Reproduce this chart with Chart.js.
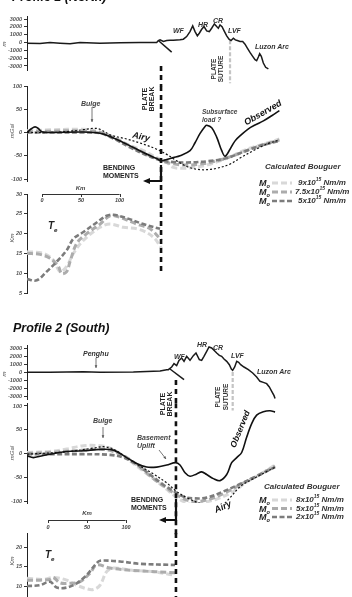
<!DOCTYPE html>
<html>
<head>
<meta charset="utf-8">
<script src="https://cdn.jsdelivr.net/npm/chart.js@4.4.1/dist/chart.umd.min.js"></script>
<style>
  html, body { margin: 0; padding: 0; background: #fff; }
  #page { position: relative; width: 352px; height: 597px; overflow: hidden; font-family: "Liberation Sans", Arial, sans-serif; }
  #page canvas { position: absolute; left: 0; }
  #page svg { position: absolute; left: 0; top: 0; }
  .t { position: absolute; white-space: nowrap; line-height: 1; }
  .t sub, .t sup { font-size: 62%; line-height: 0; }
</style>
</head>
<body>
<div id="page"></div>
<script>
// ---------- Profile 1 (North) ----------
// topography (km along profile, elevation m)
const p1TopoKm = [-19.3, -2.6, 10.3, 23.2, 36.1, 49.0, 74.7, 100.5, 126.3, 147.8, 149.9, 152.1, 156.4, 160.7, 165.0, 169.2, 177.8, 182.1, 186.4, 190.7, 194.2, 197.2, 200.2, 202.7, 205.8, 208.8, 212.2, 215.6, 218.6, 222.1, 225.1, 227.2, 229.4, 232.0, 234.5, 238.0, 241.0, 243.6, 246.6, 249.1, 251.7, 255.2, 258.6, 261.6, 264.6, 268.0, 271.5, 274.5, 276.6, 278.8, 280.5, 282.6, 285.2, 288.2, 291.7];
const p1TopoElev = [-85, -127, 0, -85, -169, 0, -85, -42, 0, 0, 254, 338, 127, 254, 296, 296, 338, 423, 760, 1394, 2113, 1394, 845, 1183, 1690, 2028, 1479, 1394, 1817, 2366, 2028, 1817, 2239, 2028, 1521, 845, 423, 254, 549, 338, 254, 127, 127, -211, -718, -1268, -1775, -2197, -2324, -1859, -1437, -1775, -2620, -3169, -3380];
const p1SlabKm = [149.9, 167.1];
const p1SlabElev = [254, -1225];
const p1PlateBreakKm = 153.4;
const p1SutureKm = 242.3;

// gravity (mGal)
const p1ObsKm = [-19.3, -13.3, -9.0, -4.7, -0.4, 10.3, 53.3, 74.8, 87.7, 109.1, 130.6, 147.8, 153.4, 160.7, 169.3, 177.9, 190.8, 197.2, 203.7, 210.1, 212.3, 218.7, 225.1, 231.6, 235.9, 242.3, 248.8, 257.4, 266.0, 274.5, 285.3, 296.0, 305.9];
const p1ObsMgal = [0, 8.6, 12, 8.6, 1.5, 0, 1, -1.5, -8.6, -25, -43, -56, -61, -58, -54, -50, -39, -22, -2, 13, 15.5, 10, -10, -39, -51, -36, -18, -4, 8, 16, 25, 36, 47];
const p1AiryKm = [-19.3, 10.3, 31.8, 53.3, 66.2, 74.8, 87.7, 109.1, 130.6, 147.8, 160.7, 173.6, 186.5, 199.4, 212.3, 225.1, 242.3, 255.2, 272.4, 289.6, 305.9];
const p1AiryMgal = [0, 0, 2, 6, 9, 7, -5, -14, -25, -36, -47, -61, -73, -79, -80, -77, -68, -55, -39, -25, -16];
const p1CalcAKm = [-19.3, 10.3, 53.3, 70.5, 87.7, 109.1, 130.6, 147.8, 160.7, 169.3, 182.2, 195.1, 212.3, 229.4, 246.6, 263.8, 285.3, 305.9];
const p1CalcAMgal = [3.6, 5.7, 7, 3.6, -7, -25, -39, -54, -64.5, -75, -77, -75, -70, -61, -49, -36, -25, -14];
const p1CalcBKm = [-19.3, 10.3, 53.3, 74.8, 92.0, 113.4, 134.9, 152.1, 165.0, 182.2, 203.7, 225.1, 246.6, 268.1, 289.6, 305.9];
const p1CalcBMgal = [1.4, 2.9, 3.6, 0, -11, -29, -46.6, -59.5, -66, -70, -68, -61, -50, -36, -24, -16];
const p1CalcCKm = [-19.3, 10.3, 53.3, 74.8, 92.0, 113.4, 134.9, 152.1, 165.0, 186.5, 212.3, 238.0, 259.5, 281.0, 305.9];
const p1CalcCMgal = [0, 0, 0, -1.4, -13, -32, -49, -59, -63, -64.5, -62, -55, -41.6, -28.7, -18];

// elastic thickness Te (km)
const p1TeAKm = [-19.3, 1.7, 14.6, 23.2, 31.8, 40.4, 53.3, 74.8, 87.7, 104.8, 126.3, 143.5, 154.2];
const p1TeA = [15.4, 15.0, 13.3, 10.4, 11.7, 15.0, 18.3, 21.6, 22.4, 21.6, 21.0, 19.1, 16.2];
const p1TeBKm = [-19.3, -2.5, 10.3, 21.1, 25.4, 31.8, 36.1, 44.7, 57.6, 74.8, 87.7, 100.6, 122.0, 139.2, 154.2];
const p1TeB = [15.0, 14.75, 13.75, 11.7, 9.9, 10.4, 12.9, 17.5, 20.0, 22.4, 24.5, 24.1, 22.4, 21.2, 18.3];
const p1TeCKm = [-19.3, -6.8, 6.0, 18.9, 31.8, 40.4, 53.3, 70.5, 83.4, 92.0, 109.1, 130.6, 152.1];
const p1TeC = [8.5, 8.2, 10.4, 12.9, 15.8, 18.7, 20.4, 22.8, 24.5, 24.75, 23.9, 22.4, 21.2];

// ---------- Profile 2 (South) ----------
const p2TopoKm = [-27.0, 2.6, 45.5, 67.0, 110.0, 144.4, 153.0, 155.1, 159.4, 162.4, 165.8, 168.8, 172.3, 175.3, 178.7, 183.0, 187.3, 190.7, 195.0, 198.0, 201.0, 204.5, 207.5, 210.9, 213.9, 217.4, 220.8, 223.8, 226.8, 230.3, 233.7, 236.3, 238.0, 240.6, 243.2, 245.7, 248.3, 252.6, 258.2, 263.8, 268.9, 273.2, 277.5, 281.8, 285.2, 288.3, 291.3, 292.6];
const p2TopoElev = [-42, -42, 42, -42, 0, 125, 292, 292, 625, 1042, 792, 1458, 1750, 1333, 1958, 1458, 2042, 2375, 1542, 1458, 1958, 2583, 3125, 3000, 2708, 2375, 2083, 1958, 1625, 1333, 917, 375, 208, 625, 1333, 1208, 917, 625, 292, -125, -625, -1167, -1292, -1458, -1875, -2417, -2958, -3300];
const p2SlabKm = [157.2, 175.3];
const p2SlabElev = [375, -958];
const p2PlateBreakKm = 164.9;
const p2SutureKm = 238.0;

const p2ObsKm = [-27.0, -18.9, -10.3, 2.6, 24.1, 45.5, 67.0, 84.2, 101.4, 114.3, 127.2, 140.1, 153.0, 164.5, 170.1, 176.6, 183.0, 191.6, 198.0, 204.5, 213.1, 221.7, 230.3, 236.7, 243.2, 249.6, 256.0, 262.5, 268.9, 277.5, 286.1, 292.6];
const p2ObsMgal = [-5, -8.6, -5.7, -1.4, 4.3, 5.7, 8.6, 7.1, -8.6, -21, -28.6, -28.6, -24.3, -19.3, -24.3, -40.7, -47.9, -42.9, -38.6, -44.3, -52.9, -57.1, -44.3, -19.3, -8.6, 2.1, 34.3, 62.9, 80.7, 87.9, 90, 87.1];
const p2AiryKm = [-27.0, 24.1, 58.4, 71.3, 84.2, 101.4, 118.6, 135.8, 153.0, 165.8, 178.7, 195.9, 213.1, 223.8, 234.6, 247.4, 264.6, 292.6];
const p2AiryMgal = [-1.4, 3.6, 11.4, 14.3, 9.3, -8.6, -26.4, -42.9, -62, -80, -92.9, -105, -112, -110, -93, -70, -53, -29];
const p2CalcAKm = [-27.0, 2.6, 24.1, 45.5, 67.0, 79.9, 97.1, 114.3, 131.5, 148.6, 161.5, 174.4, 185.2, 200.2, 217.4, 238.9, 256.0, 273.2, 292.6];
const p2CalcAMgal = [2.1, 4.3, 9.3, 16.4, 16.4, 11.4, -5, -26.4, -47.9, -69.3, -87, -101, -107, -103, -96, -80, -60, -44, -24];
const p2CalcBKm = [-27.0, 2.6, 45.5, 67.0, 84.2, 101.4, 118.6, 135.8, 153.0, 165.8, 178.7, 191.6, 208.8, 230.3, 251.8, 273.2, 292.6];
const p2CalcBMgal = [0, 2.1, 7.1, 9.3, 4.3, -8.6, -28.6, -52.9, -72.9, -87, -98, -101, -96, -81, -62, -44, -26.4];
const p2CalcCKm = [-27.0, 2.6, 45.5, 79.9, 97.1, 114.3, 131.5, 148.6, 161.5, 174.4, 187.3, 204.5, 226.0, 247.4, 268.9, 292.6];
const p2CalcCMgal = [-1.4, -1.4, -1.4, -2.9, -8.6, -22.9, -44.3, -65.7, -78.6, -90.7, -94.3, -92.9, -80, -64.3, -47.9, -28.6];

const p2TeAKm = [-27.0, -6.0, 6.9, 24.1, 37.0, 49.8, 58.4, 67.0, 75.6, 84.2, 110.0, 135.8, 161.5];
const p2TeA = [12.0, 11.7, 12.2, 11.5, 10.2, 9.3, 9.1, 10.2, 13.7, 14.6, 14.0, 13.7, 12.8];
const p2TeBKm = [-27.0, -10.3, 2.6, 6.9, 15.5, 28.4, 41.2, 54.1, 62.7, 79.9, 110.0, 163.7];
const p2TeB = [11.5, 11.5, 11.7, 12.2, 10.8, 10.7, 11.1, 13.3, 15.4, 14.6, 14.0, 13.4];
const p2TeCKm = [-27.0, -10.3, 2.6, 11.2, 24.1, 37.0, 49.8, 62.7, 67.0, 92.8, 118.6, 163.7];
const p2TeC = [10.0, 10.2, 11.1, 9.6, 9.6, 10.7, 12.8, 15.9, 16.5, 16.3, 15.7, 15.4];

// axis tick labels
const topoTicks = [-3000, -2000, -1000, 0, 1000, 2000, 3000];
const gravTicks = [-100, -50, 0, 50, 100];
const p1TeTicks = [5, 10, 15, 20, 25, 30];
const p2TeTicks = [10, 15, 20];
const scaleBarKm = [0, 50, 100];

// ---------- styles ----------
const FONT = '"Liberation Sans", Arial, sans-serif';
const S_TOPO = { borderColor: '#1a1a1a', borderWidth: 1.5, tension: 0 };
const S_OBS = { borderColor: '#111', borderWidth: 1.6, tension: 0.35 };
const S_AIRY = { borderColor: '#111', borderWidth: 1.2, borderDash: [2, 2], tension: 0.35 };
const S_A = { borderColor: '#d8d8d8', borderWidth: 3, borderDash: [6, 3], tension: 0.35 };
const S_B = { borderColor: '#acacac', borderWidth: 3, borderDash: [6, 3], tension: 0.35 };
const S_C = { borderColor: '#7c7c7c', borderWidth: 2.6, borderDash: [5, 2.5], tension: 0.35 };
const S_BREAK = { borderColor: '#111', borderWidth: 2.6, borderDash: [5, 4], clip: false, tension: 0 };
const S_SUTURE = { borderColor: '#c4c4c4', borderWidth: 2.2, borderDash: [4, 2], clip: false, tension: 0 };

const page = document.getElementById('page');

function series(xs, ys, style) {
  return Object.assign({ data: xs.map((x, i) => ({ x, y: ys[i] })), pointRadius: 0, fill: false }, style);
}
function vline(x, y0, y1, style) {
  return Object.assign({ data: [{ x, y: y0 }, { x, y: y1 }], pointRadius: 0, fill: false }, style);
}

// small km scale bar above the Te panels
const scaleBar = {
  id: 'scaleBar',
  afterDraw(chart, args, opts) {
    if (opts.y === undefined) return;
    const ctx = chart.ctx, xs = chart.scales.x;
    ctx.save();
    ctx.strokeStyle = '#333';
    ctx.lineWidth = 1;
    ctx.beginPath();
    ctx.moveTo(xs.getPixelForValue(scaleBarKm[0]), opts.y + 0.5);
    ctx.lineTo(xs.getPixelForValue(scaleBarKm[scaleBarKm.length - 1]), opts.y + 0.5);
    scaleBarKm.forEach(v => {
      const px = Math.round(xs.getPixelForValue(v)) + 0.5;
      ctx.moveTo(px, opts.y);
      ctx.lineTo(px, opts.y + 3);
    });
    ctx.stroke();
    ctx.restore();
  }
};

function panel(top, padTop, areaH, padBottom, xRange, yRange, ticks, datasets, bar) {
  const cv = document.createElement('canvas');
  cv.width = 352;
  cv.height = padTop + areaH + padBottom;
  cv.style.top = top + 'px';
  page.appendChild(cv);
  return new Chart(cv, {
    type: 'line',
    data: { datasets },
    options: {
      responsive: false,
      animation: false,
      devicePixelRatio: 1,
      layout: { padding: { top: padTop, bottom: padBottom, left: 0, right: 12 } },
      plugins: { legend: { display: false }, tooltip: { enabled: false }, scaleBar: bar || {} },
      scales: {
        x: { type: 'linear', display: false, min: xRange[0], max: xRange[1] },
        y: {
          min: yRange[0], max: yRange[1],
          afterFit: s => { s.width = 27; },
          afterBuildTicks: s => { s.ticks = ticks.map(v => ({ value: v })); },
          grid: { display: true, drawOnChartArea: false, drawTicks: true, tickLength: 3, color: '#333' },
          border: { display: true, color: '#222', width: 1 },
          ticks: {
            padding: 2, color: '#555', autoSkip: false,
            font: { family: FONT, size: 5.5, style: 'italic', weight: 'bold' },
            callback: v => String(v)
          }
        }
      }
    },
    plugins: [scaleBar]
  });
}

const p1X = [-19.33, 384.0];
const p2X = [-27.06, 376.3];

// Profile 1 panels
panel(6, 10, 54, 22, p1X, [-3511, 3383], topoTicks, [
  vline(p1PlateBreakKm, -3000, -5600, S_BREAK),
  series(p1TopoKm, p1TopoElev, S_TOPO),
  series(p1SlabKm, p1SlabElev, S_TOPO),
  vline(p1SutureKm, 300, -5200, S_SUTURE)
]);
panel(80, 6, 95, 14, p1X, [-104.3, 100], gravTicks, [
  vline(p1PlateBreakKm, 100, -130, S_BREAK),
  series(p1ObsKm, p1ObsMgal, S_OBS),
  series(p1AiryKm, p1AiryMgal, S_AIRY),
  series(p1CalcCKm, p1CalcCMgal, S_C),
  series(p1CalcBKm, p1CalcBMgal, S_B),
  series(p1CalcAKm, p1CalcAMgal, S_A)
]);
panel(184, 10, 99, 6, p1X, [5, 30], p1TeTicks, [
  vline(p1PlateBreakKm, 30, 10.2, S_BREAK),
  series(p1TeCKm, p1TeC, S_C),
  series(p1TeBKm, p1TeB, S_B),
  series(p1TeAKm, p1TeA, S_A)
], { y: 10 });

// Profile 2 panels
panel(337, 8, 54, 16, p2X, [-3375, 3375], topoTicks, [
  vline(p2PlateBreakKm, -1000, -4400, S_BREAK),
  series(p2TopoKm, p2TopoElev, S_TOPO),
  series(p2SlabKm, p2SlabElev, S_TOPO),
  vline(p2SutureKm, 0, -4800, S_SUTURE)
]);
panel(397, 6, 100, 34, p2X, [-104.2, 106.3], gravTicks, [
  vline(p2PlateBreakKm, 106, -170, S_BREAK),
  series(p2ObsKm, p2ObsMgal, S_OBS),
  series(p2AiryKm, p2AiryMgal, S_AIRY),
  series(p2CalcCKm, p2CalcCMgal, S_C),
  series(p2CalcBKm, p2CalcBMgal, S_B),
  series(p2CalcAKm, p2CalcAMgal, S_A)
]);
panel(513, 20, 72, 6, p2X, [5.13, 23.6], p2TeTicks, [
  vline(p2PlateBreakKm, 23.6, 5.13, S_BREAK),
  series(p2TeCKm, p2TeC, S_C),
  series(p2TeBKm, p2TeB, S_B),
  series(p2TeAKm, p2TeA, S_A)
], { y: 7 });

// ---------- arrows and legend swatches (svg overlay) ----------
function arrow(x1, y1, x2, y2) {
  const a = Math.atan2(y2 - y1, x2 - x1), h = 3;
  const p = (da) => (x2 - h * Math.cos(a + da)).toFixed(1) + ',' + (y2 - h * Math.sin(a + da)).toFixed(1);
  return `<line x1="${x1}" y1="${y1}" x2="${x2}" y2="${y2}" stroke="#555" stroke-width="0.8"/>` +
         `<polygon points="${x2},${y2} ${p(0.45)} ${p(-0.45)}" fill="#555"/>`;
}
function bending(x, y0, y1, xl) {
  return `<path d="M${x},${y0} L${x},${y1} L${xl},${y1}" stroke="#111" stroke-width="2.2" fill="none"/>` +
         `<polygon points="${xl - 7},${y1} ${xl},${y1 - 3} ${xl},${y1 + 3}" fill="#111"/>`;
}
function swatch(y, s) {
  return `<line x1="272" y1="${y}" x2="292" y2="${y}" stroke="${s.borderColor}" stroke-width="${s.borderWidth}" stroke-dasharray="${s.borderDash.join(',')}"/>`;
}
let svg = '<svg width="352" height="597" xmlns="http://www.w3.org/2000/svg">';
svg += arrow(92, 107, 92, 122) + arrow(103, 427, 103, 438) + arrow(96, 358, 96, 368) + arrow(159, 450, 166, 459);
svg += bending(161, 165, 181, 150) + bending(176, 499, 520, 166);
svg += swatch(183, S_A) + swatch(192, S_B) + swatch(201, S_C);
svg += swatch(500, S_A) + swatch(508.5, S_B) + swatch(517, S_C);
svg += '</svg>';
page.insertAdjacentHTML('beforeend', svg);

// ---------- text ----------
function txt(html, x, y, size, o = {}) {
  const d = document.createElement('div');
  d.className = 't';
  d.innerHTML = html;
  d.style.left = x + 'px';
  d.style.top = y + 'px';
  d.style.fontSize = size + 'px';
  d.style.color = o.c || '#333';
  d.style.fontWeight = o.w || 'bold';
  d.style.fontStyle = o.i === false ? 'normal' : 'italic';
  if (o.lh) d.style.lineHeight = o.lh;
  if (o.rot !== undefined) {
    d.style.textAlign = 'center';
    d.style.transform = `translate(-50%,-50%) rotate(${o.rot}deg)`;
  } else if (o.center) {
    d.style.transform = 'translate(-50%,-50%)';
  } else {
    d.style.transform = 'translateY(-50%)';
  }
  page.appendChild(d);
}

// profile 1
txt('Profile 1 (North)', 12, -3, 12.5, { c: '#111' });
txt('WF', 173, 29.5, 7);
txt('HR', 198, 24, 7);
txt('CR', 213, 19.5, 7);
txt('LVF', 228, 29.5, 7);
txt('Luzon Arc', 255, 45.5, 7);
txt('PLATE<br>SUTURE', 218, 69, 6.5, { i: false, rot: -90, lh: 1.05 });
txt('PLATE<br>BREAK', 148, 99, 7, { i: false, rot: -90, c: '#222' });
txt('m', 3.5, 44, 6, { w: 'normal', rot: -90, c: '#555' });
txt('mGal', 12, 131, 6, { w: 'normal', rot: -90, c: '#555' });
txt('Km', 12, 238, 6, { w: 'normal', rot: -90, c: '#555' });
txt('Bulge', 81, 103, 7, { c: '#444' });
txt('Airy', 141, 137, 9, { c: '#111', rot: 12 });
txt('Subsurface', 202, 112, 6.5, { c: '#444' });
txt('load ?', 202, 119.5, 6.5, { c: '#444' });
txt('Observed', 262.5, 112.5, 9, { c: '#111', rot: -30 });
txt('BENDING', 103, 167, 7, { i: false, c: '#222' });
txt('MOMENTS', 103, 175, 7, { i: false, c: '#222' });
txt('Calculated Bouguer', 265, 167, 8);
txt('M<sub>o</sub>', 259, 183, 9, { c: '#222' });
txt('M<sub>o</sub>', 259, 192, 9, { c: '#222' });
txt('M<sub>o</sub>', 259, 201, 9, { c: '#222' });
txt('9x10<sup>15</sup> Nm/m', 298, 183, 8);
txt('7.5x10<sup>15</sup> Nm/m', 295, 192, 8);
txt('5x10<sup>15</sup> Nm/m', 298, 201, 8);
txt('Km', 80.5, 188, 6, { center: true, c: '#444' });
txt('0', 42, 201, 5.5, { center: true, c: '#444' });
txt('50', 81, 201, 5.5, { center: true, c: '#444' });
txt('100', 119.5, 201, 5.5, { center: true, c: '#444' });
txt('T<sub>e</sub>', 48, 226, 10, { c: '#222' });

// profile 2
txt('Profile 2 (South)', 13, 327.5, 12.5, { c: '#111' });
txt('Penghu', 83, 353, 7);
txt('WF', 174, 356, 7);
txt('HR', 197, 344, 7);
txt('CR', 213, 346.5, 7);
txt('LVF', 231, 355, 7);
txt('Luzon Arc', 257, 371, 7);
txt('PLATE<br>SUTURE', 222, 397, 6.5, { i: false, rot: -90, lh: 1.2 });
txt('PLATE<br>BREAK', 166, 404, 7, { i: false, rot: -90, c: '#222' });
txt('m', 3.5, 374, 6, { w: 'normal', rot: -90, c: '#555' });
txt('mGal', 12, 453, 6, { w: 'normal', rot: -90, c: '#555' });
txt('Km', 12, 561, 6, { w: 'normal', rot: -90, c: '#555' });
txt('Bulge', 93, 420, 7, { c: '#444' });
txt('Basement', 137, 437, 7, { c: '#444' });
txt('Uplift', 137, 445, 7, { c: '#444' });
txt('Observed', 240, 429, 8.5, { c: '#111', rot: -68 });
txt('Airy', 223, 507, 9, { c: '#111', rot: -25 });
txt('BENDING', 131, 499, 7, { i: false, c: '#222' });
txt('MOMENTS', 131, 507, 7, { i: false, c: '#222' });
txt('Calculated Bouguer', 264, 487, 8);
txt('M<sub>o</sub>', 259, 500, 9, { c: '#222' });
txt('M<sub>o</sub>', 259, 508.5, 9, { c: '#222' });
txt('M<sub>o</sub>', 259, 517, 9, { c: '#222' });
txt('8x10<sup>15</sup> Nm/m', 296, 500, 8);
txt('5x10<sup>15</sup> Nm/m', 296, 508.5, 8);
txt('2x10<sup>15</sup> Nm/m', 296, 517, 8);
txt('Km', 87, 513, 6, { center: true, c: '#444' });
txt('0', 48, 528, 5.5, { center: true, c: '#444' });
txt('50', 87, 528, 5.5, { center: true, c: '#444' });
txt('100', 126, 528, 5.5, { center: true, c: '#444' });
txt('T<sub>e</sub>', 45, 555, 10, { c: '#222' });
</script>
</body>
</html>
